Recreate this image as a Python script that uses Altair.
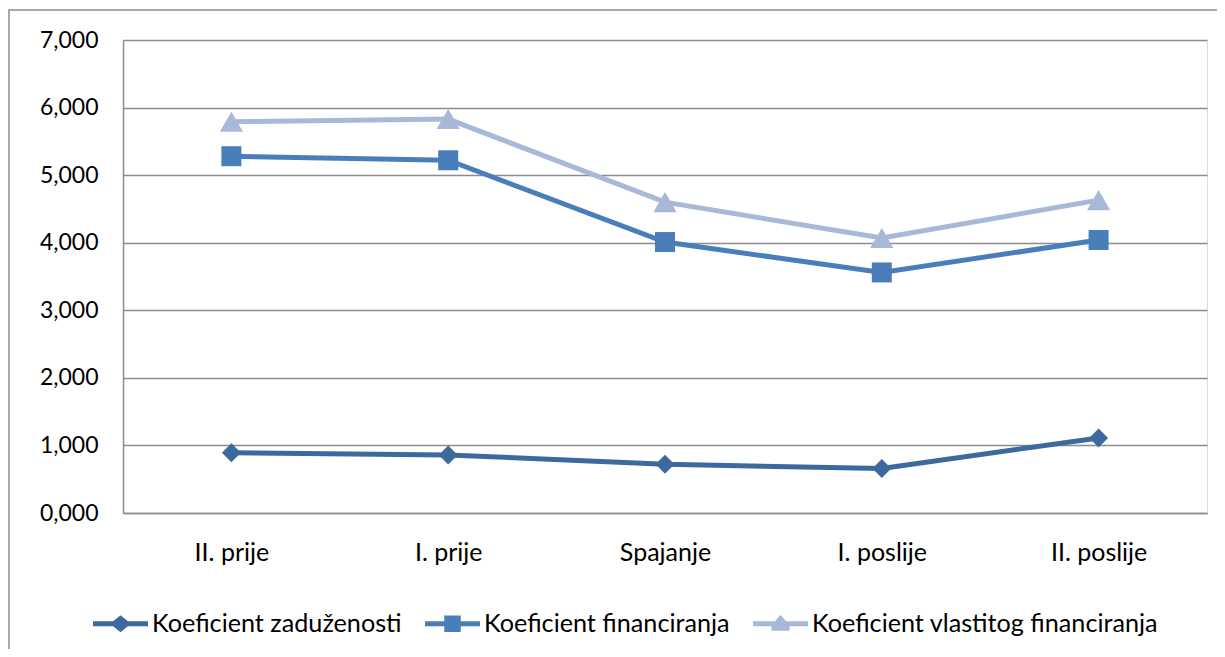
import altair as alt
import pandas as pd

categories = ["II. prije", "I. prije", "Spajanje", "I. poslije", "II. poslije"]
series_names = ["Koeficient zaduženosti", "Koeficient financiranja",
                "Koeficient vlastitog financiranja"]
zaduzenosti = [0.89, 0.86, 0.72, 0.66, 1.11]
financiranja = [5.28, 5.22, 4.01, 3.56, 4.04]
vlastitog = [5.79, 5.83, 4.60, 4.07, 4.63]
y_ticks = [0, 1, 2, 3, 4, 5, 6, 7]

colors = ["#3D6A9E", "#4A7EBB", "#A7B8D8"]
point_shapes = ["diamond", "square", "triangle-up"]
point_sizes = [360, 400, 540]
legend_paths = [
    "M-1,-0.09L-0.27,-0.09L0,-0.31L0.27,-0.09L1,-0.09L1,0.09L0.27,0.09L0,0.31L-0.27,0.09L-1,0.09Z",
    "M-1,-0.09L-0.3,-0.09L-0.3,-0.3L0.3,-0.3L0.3,-0.09L1,-0.09L1,0.09L0.3,0.09L0.3,0.3L-0.3,0.3L-0.3,0.09L-1,0.09Z",
    "M-1,-0.09L-0.2,-0.09L0,-0.32L0.2,-0.09L1,-0.09L1,0.09L0.33,0.09L0.33,0.26L-0.33,0.26L-0.33,0.09L-1,0.09Z",
]

rows = []
for name, vals in zip(series_names, [zaduzenosti, financiranja, vlastitog]):
    for c, v in zip(categories, vals):
        rows.append({"category": c, "series": name, "value": v})
df = pd.DataFrame(rows)

FONT = "Lato"
GRAY = "#8C8C8C"

x_enc = alt.X("category:N", sort=categories,
              scale=alt.Scale(type="point", padding=0.5),
              axis=alt.Axis(title=None, labelAngle=0, ticks=False, grid=False,
                            domainColor=GRAY, domainWidth=1.5,
                            labelFont=FONT, labelFontSize=25, labelColor="#000000",
                            labelPadding=27))
y_enc = alt.Y("value:Q", scale=alt.Scale(domain=[0, 7], nice=False),
              axis=alt.Axis(title=None, values=y_ticks, format=".3f",
                            labelExpr="replace(datum.label, '.', ',')",
                            ticks=False, grid=True, gridColor=GRAY, gridWidth=1.5,
                            domainColor=GRAY, domainWidth=1.5,
                            labelFont=FONT, labelFontSize=23, labelColor="#000000",
                            labelPadding=25))

base = alt.Chart(df)

border = alt.Chart(alt.Data(values=[{"k": 1}])).mark_rect(
    fill=None, stroke=GRAY, strokeWidth=1.5, clip=False
).encode(x=alt.value(-114), x2=alt.value(1130), y=alt.value(-30), y2=alt.value(700))

line_layers = []
point_layers = []
for name, col, shp, sz in zip(series_names, colors, point_shapes, point_sizes):
    sub = base.transform_filter(alt.datum.series == name)
    line_layers.append(sub.mark_line(strokeWidth=5, color=col).encode(x=x_enc, y=y_enc))
    point_layers.append(
        sub.mark_point(filled=True, shape=shp, size=sz, opacity=1, color=col)
        .encode(x=x_enc, y=y_enc)
    )

leg = alt.Legend(title=None, orient="none", direction="horizontal",
                 legendX=-30, legendY=556,
                 symbolSize=3025, symbolStrokeWidth=0, symbolOpacity=1,
                 labelFont=FONT, labelFontSize=25.2, labelLimit=0,
                 labelColor="#000000", labelOffset=4,
                 columnPadding=23, padding=0)

# legend-only layer: no marks drawn (empty after filter), legend from explicit domains
legend_layer = base.transform_filter("false").mark_point(filled=True).encode(
    x=x_enc, y=y_enc,
    color=alt.Color("series:N", scale=alt.Scale(domain=series_names, range=colors), legend=leg),
    shape=alt.Shape("series:N", scale=alt.Scale(domain=series_names, range=legend_paths), legend=leg),
)

chart = alt.layer(border, *line_layers, *point_layers, legend_layer).properties(
    width=1084, height=473,
    autosize=alt.AutoSizeParams(type="none"),
    padding={"left": 115, "top": 32, "right": 10, "bottom": 136},
).configure_view(stroke=None).configure(background="white")

chart.save("out.html", embed_options={"renderer": "svg", "actions": False})
